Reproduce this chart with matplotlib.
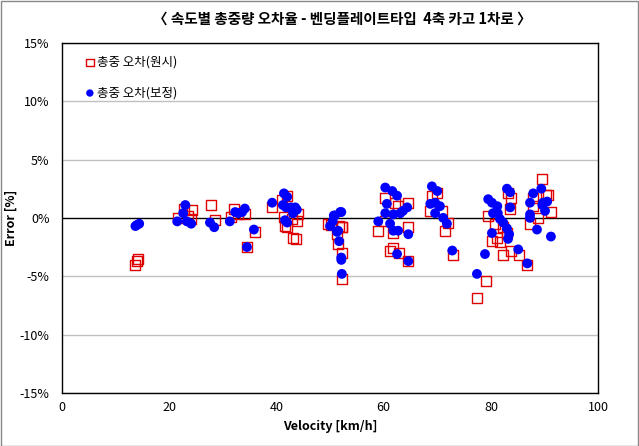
import matplotlib
matplotlib.use("Agg")
import matplotlib.pyplot as plt
from matplotlib.patches import Rectangle
from matplotlib.ticker import FuncFormatter

plt.rcParams['font.family'] = ['Noto Sans CJK KR', 'DejaVu Sans']

# 총중 오차(원시) - raw
raw_v = [13.6, 14.0, 14.2,
         21.6, 22.8, 24.3, 24.1, 23.5, 27.8, 28.5,
         31.5, 32.1, 32.9, 34.1, 36.0, 34.5,
         39.2, 42.0, 41.4, 41.6, 42.0, 43.1, 43.7, 43.8, 44.0, 42.9, 41.0,
         50.2, 51.3, 51.5, 52.2, 52.2, 52.2, 51.7, 49.6, 52.2,
         60.3, 62.1, 64.6, 60.3, 59.0, 61.8, 64.6, 61.2, 61.8, 62.9, 64.6, 62.7,
         69.0, 70.0, 68.7, 70.9, 71.5, 72.0, 72.9,
         77.4, 79.1, 86.8, 82.3, 83.7, 85.3, 79.5, 80.2, 81.2, 81.7, 83.2, 83.7,
         83.6, 80.8, 82.3, 83.0,
         89.6, 87.9, 90.3, 90.7, 87.9, 91.2, 87.3, 88.8]
raw_e = [-4.0, -3.7, -3.5,
         0.0, 0.8, 0.7, -0.1, 0.2, 1.1, -0.2,
         0.1, 0.8, 0.3, 0.3, -1.2, -2.5,
         0.9, 1.9, 0.1, -0.7, -0.8, -1.7, -1.8, -0.3, 0.3, -0.1, 1.5,
         -0.6, -1.4, -2.2, -3.0, -5.2, -0.8, -0.7, -0.5, -0.8,
         1.7, 1.3, 1.3, -0.3, -1.1, -1.3, -0.8, -2.8, -2.6, -3.0, -3.7, 1.0,
         1.9, 2.1, 0.6, 0.6, -1.1, -0.4, -3.2,
         -6.9, -5.4, -4.0, -3.2, -2.8, -3.2, 0.2, -2.0, -1.7, -2.1, 2.1, 1.7,
         0.8, -0.5, -0.8, -1.3,
         3.3, 1.7, 2.0, 2.0, 1.0, 0.5, -0.5, 0.0]

# 총중 오차(보정) - corrected
cor_v = [13.7, 14.0, 14.4,
         21.5, 23.0, 22.6, 23.3, 24.1, 27.6, 28.4,
         31.3, 32.3, 32.9, 33.6, 34.1, 35.8, 34.5,
         39.2, 41.4, 42.0, 41.2, 41.8, 42.7, 43.5, 43.8, 43.1, 41.6, 42.0,
         52.1, 50.9, 50.5, 51.5, 51.7, 52.1, 52.1, 52.2, 50.7, 51.9, 50.0, 51.3,
         59.0, 60.3, 61.6, 62.5, 60.6, 60.3, 61.8, 63.1, 63.6, 64.4, 61.2, 61.8,
         62.7, 64.6, 62.5, 64.6,
         69.0, 70.0, 68.7, 69.6, 70.5, 69.6, 71.1, 71.8, 72.8,
         77.4, 78.9, 79.5, 80.2, 81.2, 80.4, 81.3, 81.7, 82.3, 83.0, 83.4, 83.2,
         80.2, 83.0, 83.6, 83.6, 85.1, 86.8,
         89.4, 87.9, 87.3, 89.7, 90.5, 89.6, 90.1, 87.3, 87.3, 88.6, 91.2]
cor_e = [-0.7, -0.6, -0.5,
         -0.3, 1.1, 0.4, -0.3, -0.5, -0.4, -0.8,
         -0.3, 0.5, 0.4, 0.5, 0.8, -1.0, -2.5,
         1.3, 2.1, 1.8, 1.1, 0.9, 0.9, 0.9, 0.7, 0.4, -0.2, -0.4,
         0.5, 0.2, -0.3, -1.1, -2.0, -3.4, -3.6, -4.8, 0.2, 0.5, -0.7, -1.2,
         -0.3, 2.6, 2.3, 1.9, 1.2, 0.4, 0.3, 0.4, 0.6, 0.9, -0.5, -1.1,
         -1.1, -1.4, -3.1, -3.7,
         2.7, 2.3, 1.2, 1.3, 1.0, 0.4, 0.0, -0.5, -2.8,
         -4.8, -3.1, 1.6, 1.3, 1.0, 0.4, 0.4, -0.1, -0.4, -0.9, -1.4, -1.8,
         -1.3, 2.5, 2.2, 0.9, -2.7, -3.9,
         2.5, 2.1, 1.3, 1.3, 1.4, 1.1, 0.6, 0.3, 0.0, -1.0, -1.6]

x_ticks = [0, 20, 40, 60, 80, 100]
y_ticks = [-15, -10, -5, 0, 5, 10, 15]

fig = plt.figure(figsize=(6.39, 4.46), dpi=100)
ax = fig.add_axes([0.097, 0.119, 0.839, 0.785])

fig.patches.append(Rectangle((0.001, 0.001), 0.997, 0.997, transform=fig.transFigure,
                             fill=False, edgecolor="#888888", linewidth=1))

for y in y_ticks:
    if y != 0:
        ax.axhline(y, color="#c0c0c0", linewidth=1, zorder=0)
ax.axhline(0, color="black", linewidth=1, zorder=1)

ax.scatter(raw_v, raw_e, s=52, marker="s", facecolors="none", edgecolors="#e00000",
           linewidths=1, label="총중 오차(원시)", zorder=2)
ax.scatter(cor_v, cor_e, s=50, marker="o", color="#0000ff", edgecolors="none",
           label="총중 오차(보정)", zorder=3)

ax.set_xlim(0, 100)
ax.set_ylim(-15, 15)
ax.set_xticks(x_ticks)
ax.set_yticks(y_ticks)
ax.yaxis.set_major_formatter(FuncFormatter(lambda v, p: "%d%%" % v))
ax.tick_params(axis="both", length=0, labelsize=9)
ax.tick_params(axis="y", pad=9)
ax.tick_params(axis="x", pad=6)

for s in ax.spines.values():
    s.set_color("black")
    s.set_linewidth(1)

ax.set_xlabel("Velocity [km/h]", fontsize=9, fontweight="bold")
ax.set_ylabel("Error [%]", fontsize=9, fontweight="bold")
ax.yaxis.set_label_coords(-0.083, 0.5)
fig.suptitle("〈 속도별 총중량 오차율 - 벤딩플레이트타입  4축 카고 1차로 〉", x=0.535, y=0.975,
             fontsize=10.5, fontweight="bold")

ax.legend(loc="upper left", bbox_to_anchor=(0.017, 0.995), frameon=False, fontsize=9,
          handletextpad=0.0, handlelength=1.2, labelspacing=1.4, markerscale=0.75)

fig.savefig("out.png", dpi=100)
